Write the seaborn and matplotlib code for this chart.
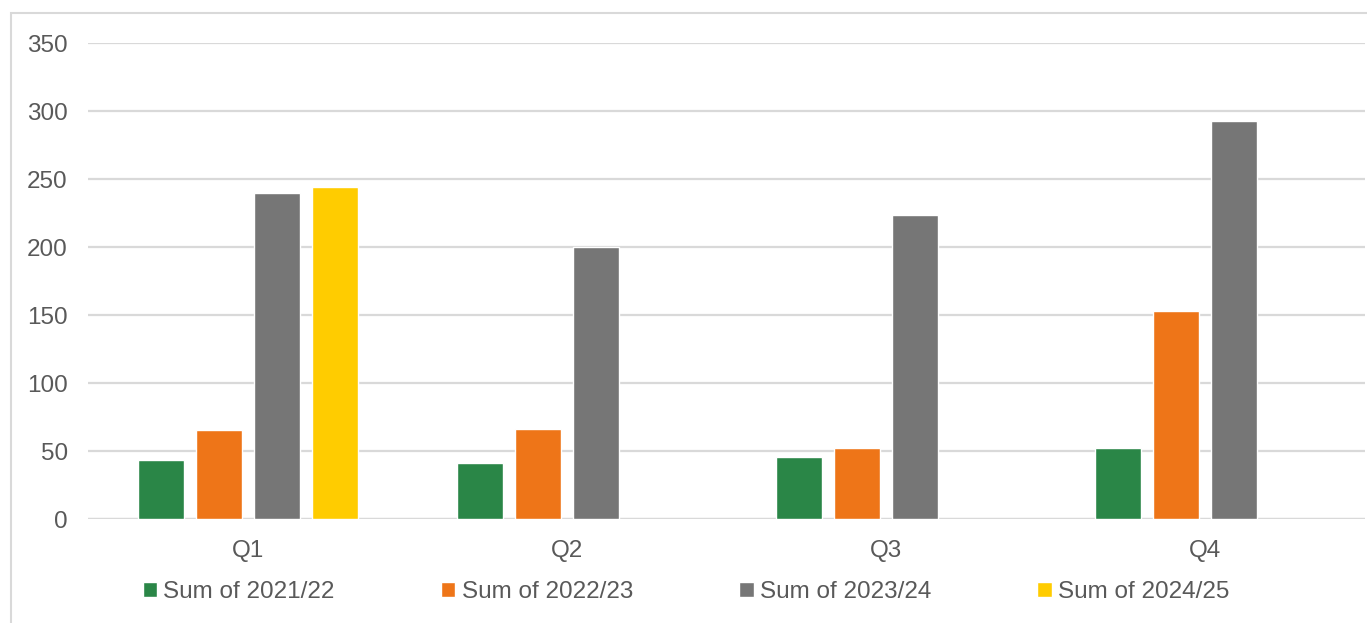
import matplotlib
matplotlib.use('Agg')
import matplotlib.pyplot as plt
import numpy as np
import pandas as pd
import seaborn as sns
from matplotlib.patches import Rectangle

quarters = ['Q1', 'Q2', 'Q3', 'Q4']
series = ['Sum of 2021/22', 'Sum of 2022/23', 'Sum of 2023/24', 'Sum of 2024/25']
v2122 = [43.5, 41.5, 45.5, 52]
v2223 = [65.5, 66, 52, 153]
v2324 = [239.5, 200, 223.5, 292.5]
v2425 = [244, np.nan, np.nan, np.nan]
colors = ['#2A8647', '#EE7518', '#767676', '#FFCC00']

W, H = 1367, 623


def main():
    sns.set_theme(style='white')
    plt.rcParams['font.family'] = ['Liberation Sans', 'DejaVu Sans']
    txt = '#595959'
    fs = 17.5

    rows = []
    for name, vals in zip(series, [v2122, v2223, v2324, v2425]):
        for q, v in zip(quarters, vals):
            rows.append({'quarter': q, 'series': name, 'value': v})
    df = pd.DataFrame(rows)

    fig = plt.figure(figsize=(W / 100, H / 100), dpi=100)
    ax = fig.add_axes([88.5 / W, 104 / H, (1364.5 - 88.5) / W, (519 - 43) / H])

    sns.barplot(data=df, x='quarter', y='value', hue='series', order=quarters,
                hue_order=series, palette=colors, width=0.727, gap=0.207,
                saturation=1, ax=ax, legend=True, zorder=3)

    ax.set_ylim(0, 350)
    ax.set_yticks(range(0, 351, 50))
    ax.grid(axis='y', color='#d9d9d9', lw=1.6, zorder=0)
    ax.set_axisbelow(True)
    for s in ax.spines.values():
        s.set_visible(False)
    ax.axhline(0, color='#d9d9d9', lw=1.6, zorder=1)
    ax.set_xlabel('')
    ax.set_ylabel('')
    ax.tick_params(axis='y', length=0, pad=15, labelsize=fs, labelcolor=txt)
    ax.tick_params(axis='x', length=0, pad=15, labelsize=fs, labelcolor=txt)

    handles, labels = ax.get_legend_handles_labels()
    ax.get_legend().remove()
    fig.legend(handles, labels, loc='center', bbox_to_anchor=(686 / W, 1 - 592 / H),
               ncol=4, frameon=False, fontsize=fs, labelcolor=txt,
               handlelength=0.6, handleheight=0.6, handletextpad=0.25,
               columnspacing=4.37)

    fig.add_artist(Rectangle((11 / W, -0.05), 1.2, (H - 13) / H + 0.05,
                             transform=fig.transFigure, fill=False,
                             edgecolor='#d9d9d9', lw=1.5))

    fig.savefig('out.png', dpi=100)
    plt.close(fig)


if __name__ == '__main__':
    main()
